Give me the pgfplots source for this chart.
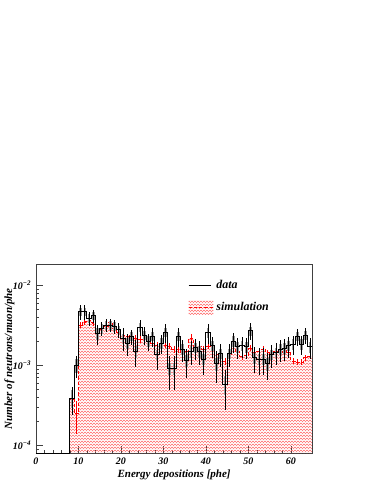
\documentclass[border=0pt]{standalone}
\usepackage{fontspec}
\setmainfont{Liberation Serif}
\usepackage{pgfplots}
\usepackage{pgfplotstable}
\pgfplotsset{compat=1.18}
\usetikzlibrary{patterns}

\pgfdeclarepatterninherentlycolored{redhatch}{\pgfpointorigin}{\pgfpoint{2.25pt}{2.25pt}}{\pgfpoint{2.25pt}{2.25pt}}{
  \pgfsetcolor{red!60}\pgfsetlinewidth{0.5pt}
  \pgfpathmoveto{\pgfpoint{-0.3pt}{-0.3pt}}\pgfpathlineto{\pgfpoint{2.55pt}{2.55pt}}
  \pgfpathmoveto{\pgfpoint{-0.3pt}{1.95pt}}\pgfpathlineto{\pgfpoint{0.3pt}{2.55pt}}
  \pgfpathmoveto{\pgfpoint{1.95pt}{-0.3pt}}\pgfpathlineto{\pgfpoint{2.55pt}{0.3pt}}
  \pgfusepath{stroke}}

% x = lower bin edge [phe], d/de/sy = data, stat. error, box; s/se = simulation
\pgfplotstableread{
x   d        de       sy       s        se
0   8e-5     0        0        8e-5     0
8   3.9e-4   1.5e-4   1.0e-4   3.7e-4   1.2e-4
9   1.0e-3   0.3e-3   0.2e-3   2.5e-4   1.1e-4
10  4.7e-3   1.0e-3   0.6e-3   3.2e-3   0.3e-3
11  4.7e-3   1.0e-3   0.6e-3   3.5e-3   0.3e-3
12  3.9e-3   0.8e-3   0.5e-3   3.7e-3   0.3e-3
13  4.2e-3   0.8e-3   0.5e-3   3.4e-3   0.3e-3
14  2.5e-3   0.7e-3   0.4e-3   2.8e-3   0.25e-3
15  2.9e-3   0.6e-3   0.4e-3   2.8e-3   0.25e-3
16  3.2e-3   0.6e-3   0.4e-3   3.1e-3   0.3e-3
17  3.2e-3   0.6e-3   0.4e-3   3.45e-3  0.3e-3
18  3.1e-3   0.6e-3   0.4e-3   2.9e-3   0.25e-3
19  2.8e-3   0.6e-3   0.35e-3  2.6e-3   0.2e-3
20  2.2e-3   0.7e-3   0.3e-3   2.4e-3   0.2e-3
21  1.9e-3   0.6e-3   0.3e-3   2.3e-3   0.2e-3
22  2.3e-3   0.5e-3   0.3e-3   2.4e-3   0.2e-3
23  1.5e-3   0.55e-3  0.25e-3  2.2e-3   0.2e-3
24  3.0e-3   0.7e-3   0.4e-3   2.1e-3   0.2e-3
25  2.4e-3   0.6e-3   0.3e-3   2.1e-3   0.2e-3
26  2.0e-3   0.5e-3   0.3e-3   2.2e-3   0.2e-3
27  2.3e-3   0.6e-3   0.3e-3   1.9e-3   0.15e-3
28  1.37e-3  0.5e-3   0.2e-3   1.8e-3   0.15e-3
29  1.9e-3   0.5e-3   0.3e-3   1.8e-3   0.15e-3
30  2.6e-3   0.7e-3   0.35e-3  1.8e-3   0.15e-3
31  0.91e-3  0.42e-3  0.15e-3  1.75e-3  0.15e-3
32  0.91e-3  0.42e-3  0.15e-3  1.6e-3   0.15e-3
33  2.3e-3   0.6e-3   0.3e-3   1.6e-3   0.15e-3
34  1.6e-3   0.5e-3   0.25e-3  1.45e-3  0.12e-3
35  1.15e-3  0.45e-3  0.2e-3   1.5e-3   0.12e-3
36  1.5e-3   0.5e-3   0.25e-3  2.2e-3   0.25e-3
37  1.66e-3  0.5e-3   0.25e-3  1.65e-3  0.15e-3
38  1.5e-3   0.5e-3   0.25e-3  1.75e-3  0.15e-3
39  1.2e-3   0.45e-3  0.2e-3   1.6e-3   0.15e-3
40  2.55e-3  0.7e-3   0.35e-3  1.75e-3  0.15e-3
41  1.75e-3  0.5e-3   0.25e-3  1.6e-3   0.15e-3
42  1.05e-3  0.45e-3  0.2e-3   1.37e-3  0.12e-3
43  1.4e-3   0.45e-3  0.2e-3   1.43e-3  0.12e-3
44  0.58e-3  0.3e-3   0.15e-3  1.13e-3  0.12e-3
45  1.4e-3   0.45e-3  0.2e-3   1.37e-3  0.12e-3
46  2.0e-3   0.55e-3  0.3e-3   1.75e-3  0.15e-3
47  1.7e-3   0.5e-3   0.25e-3  1.5e-3   0.12e-3
48  1.75e-3  0.5e-3   0.25e-3  1.3e-3   0.12e-3
49  1.7e-3   0.5e-3   0.25e-3  1.35e-3  0.12e-3
50  2.7e-3   0.65e-3  0.35e-3  1.65e-3  0.15e-3
51  1.25e-3  0.45e-3  0.2e-3   1.45e-3  0.12e-3
52  1.2e-3   0.45e-3  0.2e-3   1.5e-3   0.12e-3
53  1.2e-3   0.45e-3  0.2e-3   1.6e-3   0.15e-3
54  1.05e-3  0.4e-3   0.2e-3   1.45e-3  0.12e-3
55  1.37e-3  0.45e-3  0.2e-3   1.35e-3  0.12e-3
56  1.45e-3  0.45e-3  0.2e-3   1.5e-3   0.12e-3
57  1.6e-3   0.5e-3   0.25e-3  1.45e-3  0.12e-3
58  1.65e-3  0.5e-3   0.25e-3  1.6e-3   0.15e-3
59  1.75e-3  0.5e-3   0.25e-3  1.45e-3  0.12e-3
60  1.85e-3  0.5e-3   0.3e-3   1.13e-3  0.1e-3
61  2.3e-3   0.55e-3  0.3e-3   1.1e-3   0.1e-3
62  1.85e-3  0.5e-3   0.3e-3   1.1e-3   0.1e-3
63  2.4e-3   0.55e-3  0.3e-3   1.25e-3  0.1e-3
64  1.7e-3   0.5e-3   0.25e-3  1.3e-3   0.1e-3
65  1.7e-3   0        0        1.3e-3   0
}\hist

\begin{document}
\begin{tikzpicture}
\begin{axis}[
    name=ax, scale only axis,
    width=208.5pt, height=142.5pt,
    xmin=0, xmax=65,
    ymode=log, ymin=8e-5, ymax=1.84e-2, log origin y=infty,
    xtick={0,10,...,60}, xticklabels={0,10,20,30,40,50,60},
    minor x tick num=4,
    ytick={1e-4,1e-3,1e-2},
    yticklabels={10\textsuperscript{−4},10\textsuperscript{−3},10\textsuperscript{−2}},
    minor ytick={9e-5,2e-4,3e-4,4e-4,5e-4,6e-4,7e-4,8e-4,9e-4,2e-3,3e-3,4e-3,5e-3,6e-3,7e-3,8e-3,9e-3},
    xtick pos=bottom, ytick pos=left, tick align=inside,
    major tick length=5pt, minor tick length=2.5pt,
    axis line style={black!75, line width=0.6pt},
    tick style={black!75, line width=0.5pt},
    ticklabel style={font=\fontsize{7.5}{9}\selectfont\bfseries\itshape},
    xlabel={Energy depositions [phe]},
    ylabel={Number of neutrons/muon/phe},
    label style={font=\fontsize{8.3}{10}\selectfont\bfseries\itshape},
    xlabel style={yshift=3pt},
    ylabel style={yshift=-8pt},
    legend style={at={(0.535,0.945)}, anchor=north west, draw=none, fill=none,
        font=\fontsize{9}{11}\selectfont\bfseries\itshape, row sep=5pt,
        cells={anchor=west}},
    legend cell align=left,
]
% simulation (hatched)
\addplot[forget plot, const plot, draw=none, pattern=redhatch]
    table[x=x, y=s]{\hist} \closedcycle;
\addplot[forget plot, const plot, red, line width=0.7pt, dash pattern=on 2.5pt off 1.5pt]
    table[x=x, y=s]{\hist};
\addplot[forget plot, draw=none, mark=none, restrict x to domain=8:65,
    error bars/.cd, y dir=both, y explicit, x dir=both, x fixed=0.2, error mark=none,
    error bar style={draw=red, solid, line width=0.6pt}]
    table[x expr=\thisrow{x}+0.5, y=s, y error=se]{\hist};
% data
\addplot[forget plot, draw=none, mark=none, restrict x to domain=8:65,
    error bars/.cd, y dir=both, y explicit, error mark=none,
    error bar style={draw=gray!75, solid, line width=2pt}]
    table[x expr=\thisrow{x}+0.5, y=d, y error=sy]{\hist};
\addplot[forget plot, const plot, black, line width=0.75pt]
    table[x=x, y=d]{\hist};
\addplot[forget plot, draw=none, mark=none, restrict x to domain=8:65,
    error bars/.cd, y dir=both, y explicit, error mark=none,
    error bar style={draw=black, solid, line width=0.6pt}]
    table[x expr=\thisrow{x}+0.5, y=d, y error=de]{\hist};

\addlegendimage{black, line width=0.8pt}
\addlegendentry{data}
\addlegendimage{legend image code/.code={
    \path[draw=none, pattern=redhatch] (0cm,-0.19cm) rectangle (0.66cm,0.19cm);
    \draw[red, line width=0.7pt, dash pattern=on 2.5pt off 1.5pt] (0cm,0cm) -- (0.66cm,0cm);}}
\addlegendentry{simulation}
\end{axis}
\path[use as bounding box] ([shift={(-27pt,-21pt)}]ax.south west) rectangle ([shift={(253.5pt,342pt)}]ax.south west);
\end{tikzpicture}
\end{document}
